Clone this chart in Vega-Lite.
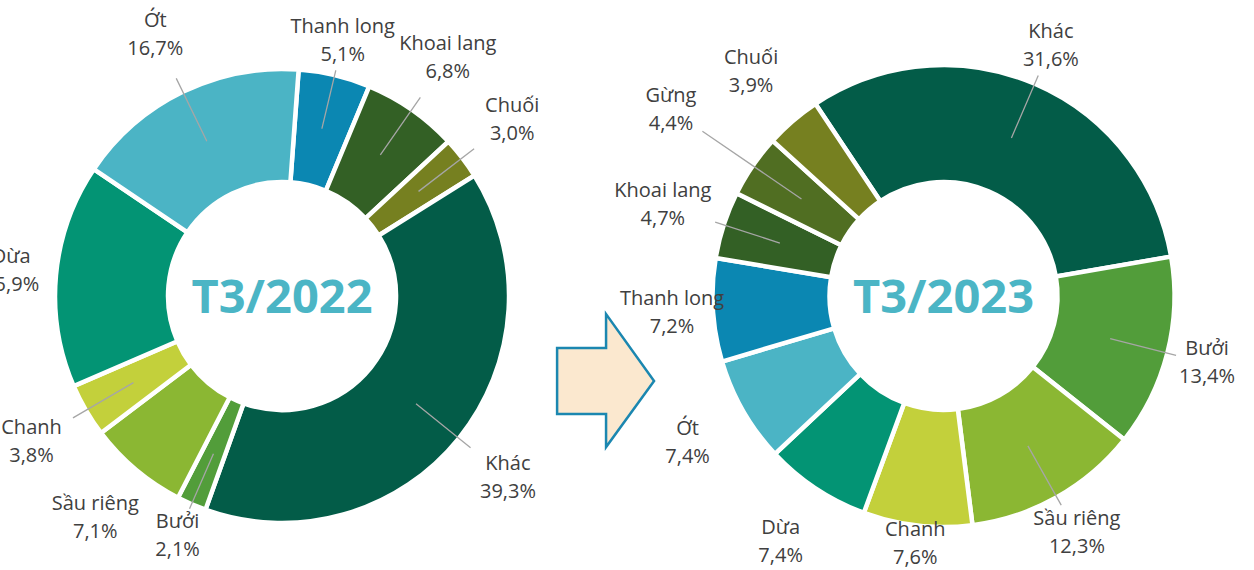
{
  "$schema": "https://vega.github.io/schema/vega-lite/v6.json",
  "width": 1254,
  "height": 548,
  "padding": {"top": 22, "bottom": 0, "left": 0, "right": 0},
  "autosize": {"type": "none"},
  "background": "white",
  "config": {
    "view": {"stroke": null},
    "locale": {"number": {"decimal": ",", "thousands": ".", "grouping": [3], "currency": ["", " ₫"]}},
    "text": {"font": "Open Sans", "fontSize": 20, "baseline": "middle", "align": "center"}
  },
  "data": {
    "values": [
      {"chart": "T3/2022", "i": 1, "name": "Thanh long", "share": 0.051},
      {"chart": "T3/2022", "i": 2, "name": "Khoai lang", "share": 0.068},
      {"chart": "T3/2022", "i": 3, "name": "Chuối", "share": 0.030},
      {"chart": "T3/2022", "i": 4, "name": "Khác", "share": 0.393},
      {"chart": "T3/2022", "i": 5, "name": "Bưởi", "share": 0.021},
      {"chart": "T3/2022", "i": 6, "name": "Sầu riêng", "share": 0.071},
      {"chart": "T3/2022", "i": 7, "name": "Chanh", "share": 0.038},
      {"chart": "T3/2022", "i": 8, "name": "Dừa", "share": 0.159},
      {"chart": "T3/2022", "i": 9, "name": "Ớt", "share": 0.167},
      {"chart": "T3/2023", "i": 1, "name": "Khác", "share": 0.316},
      {"chart": "T3/2023", "i": 2, "name": "Bưởi", "share": 0.134},
      {"chart": "T3/2023", "i": 3, "name": "Sầu riêng", "share": 0.123},
      {"chart": "T3/2023", "i": 4, "name": "Chanh", "share": 0.076},
      {"chart": "T3/2023", "i": 5, "name": "Dừa", "share": 0.074},
      {"chart": "T3/2023", "i": 6, "name": "Ớt", "share": 0.074},
      {"chart": "T3/2023", "i": 7, "name": "Thanh long", "share": 0.072},
      {"chart": "T3/2023", "i": 8, "name": "Khoai lang", "share": 0.047},
      {"chart": "T3/2023", "i": 9, "name": "Gừng", "share": 0.044},
      {"chart": "T3/2023", "i": 10, "name": "Chuối", "share": 0.039}
    ]
  },
  "encoding": {
    "x": {
      "field": "chart",
      "type": "nominal",
      "axis": null,
      "scale": {"type": "point", "domain": ["T3/2022", "arrow", "T3/2023"], "padding": 0.8957, "align": 0.476}
    }
  },
  "layer": [
    {
      "transform": [{"filter": "datum.chart === 'T3/2022'"}],
      "encoding": {
        "theta": {"field": "share", "type": "quantitative", "stack": true, "scale": {"range": [0.0733, 6.3565]}},
        "order": {"field": "i", "type": "quantitative"},
        "color": {
          "field": "name",
          "type": "nominal",
          "legend": null,
          "scale": {
            "domain": ["Khác", "Bưởi", "Sầu riêng", "Chanh", "Dừa", "Ớt", "Thanh long", "Khoai lang", "Gừng", "Chuối"],
            "range": ["#035C48", "#529D3A", "#8BB733", "#C3D03B", "#039474", "#4BB4C5", "#0B87B2", "#336025", "#506E22", "#768020"]
          }
        }
      },
      "layer": [
        {"mark": {"type": "arc", "radius": 227, "radius2": 114, "stroke": "white", "strokeWidth": 4.5}},
        {
          "mark": {"type": "arc", "radius": 242, "radius2": 172, "padAngle": 3, "filled": false, "strokeWidth": 1.3},
          "encoding": {
            "color": {"value": "#A6A6A6"},
            "opacity": {"condition": {"test": "indexof(['Ớt','Khoai lang','Chuối','Khác','Chanh'], datum.name) >= 0", "value": 1}, "value": 0}
          }
        },
        {
          "mark": {"type": "arc", "radius": 232, "radius2": 172, "padAngle": 3, "filled": false, "strokeWidth": 1.3},
          "encoding": {
            "color": {"value": "#A6A6A6"},
            "opacity": {"condition": {"test": "indexof(['Thanh long','Bưởi'], datum.name) >= 0", "value": 1}, "value": 0}
          }
        },
        {
          "mark": {"type": "text", "radius": 290, "dy": -14},
          "encoding": {
            "text": {"field": "name", "type": "nominal"}, "color": {"value": "#404040"},
            "opacity": {"condition": {"test": "indexof(['Thanh long','Bưởi','Dừa'], datum.name) < 0", "value": 1}, "value": 0}
          }
        },
        {
          "mark": {"type": "text", "radius": 290, "dy": 14},
          "encoding": {
            "text": {"field": "share", "type": "quantitative", "format": ".1%"}, "color": {"value": "#404040"},
            "opacity": {"condition": {"test": "indexof(['Thanh long','Bưởi','Dừa'], datum.name) < 0", "value": 1}, "value": 0}
          }
        },
        {
          "mark": {"type": "text", "radius": 272, "dy": -14},
          "encoding": {
            "text": {"field": "name", "type": "nominal"}, "color": {"value": "#404040"},
            "opacity": {"condition": {"test": "datum.name === 'Dừa'", "value": 1}, "value": 0}
          }
        },
        {
          "mark": {"type": "text", "radius": 272, "dy": 14},
          "encoding": {
            "text": {"field": "share", "type": "quantitative", "format": ".1%"}, "color": {"value": "#404040"},
            "opacity": {"condition": {"test": "datum.name === 'Dừa'", "value": 1}, "value": 0}
          }
        },
        {
          "mark": {"type": "text", "radius": 262, "dy": -14},
          "encoding": {
            "text": {"field": "name", "type": "nominal"}, "color": {"value": "#404040"},
            "opacity": {"condition": {"test": "indexof(['Thanh long','Bưởi'], datum.name) >= 0", "value": 1}, "value": 0}
          }
        },
        {
          "mark": {"type": "text", "radius": 262, "dy": 14},
          "encoding": {
            "text": {"field": "share", "type": "quantitative", "format": ".1%"}, "color": {"value": "#404040"},
            "opacity": {"condition": {"test": "indexof(['Thanh long','Bưởi'], datum.name) >= 0", "value": 1}, "value": 0}
          }
        }
      ]
    },
    {
      "transform": [{"filter": "datum.chart === 'T3/2023'"}],
      "encoding": {
        "theta": {"field": "share", "type": "quantitative", "stack": true, "scale": {"range": [-0.588, 5.6952]}},
        "order": {"field": "i", "type": "quantitative"},
        "color": {
          "field": "name",
          "type": "nominal",
          "legend": null,
          "scale": {
            "domain": ["Khác", "Bưởi", "Sầu riêng", "Chanh", "Dừa", "Ớt", "Thanh long", "Khoai lang", "Gừng", "Chuối"],
            "range": ["#035C48", "#529D3A", "#8BB733", "#C3D03B", "#039474", "#4BB4C5", "#0B87B2", "#336025", "#506E22", "#768020"]
          }
        }
      },
      "layer": [
        {"mark": {"type": "arc", "radius": 231, "radius2": 114, "stroke": "white", "strokeWidth": 4.5}},
        {
          "mark": {"type": "arc", "radius": 240, "radius2": 172, "padAngle": 3, "filled": false, "strokeWidth": 1.3},
          "encoding": {
            "color": {"value": "#A6A6A6"},
            "opacity": {"condition": {"test": "indexof(['Khác','Sầu riêng','Khoai lang','Bưởi'], datum.name) >= 0", "value": 1}, "value": 0}
          }
        },
        {
          "mark": {"type": "arc", "radius": 292, "radius2": 172, "padAngle": 3, "filled": false, "strokeWidth": 1.3},
          "encoding": {
            "color": {"value": "#A6A6A6"},
            "opacity": {"condition": {"test": "datum.name === 'Gừng'", "value": 1}, "value": 0}
          }
        },
        {
          "mark": {"type": "text", "radius": 250, "dy": -14},
          "encoding": {
            "text": {"field": "name", "type": "nominal"}, "color": {"value": "#404040"},
            "opacity": {"condition": {"test": "datum.name === 'Chanh'", "value": 1}, "value": 0}
          }
        },
        {
          "mark": {"type": "text", "radius": 250, "dy": 14},
          "encoding": {
            "text": {"field": "share", "type": "quantitative", "format": ".1%"}, "color": {"value": "#404040"},
            "opacity": {"condition": {"test": "datum.name === 'Chanh'", "value": 1}, "value": 0}
          }
        },
        {
          "mark": {"type": "text", "radius": 272, "dy": -14},
          "encoding": {
            "text": {"field": "name", "type": "nominal"}, "color": {"value": "#404040"},
            "opacity": {"condition": {"test": "indexof(['Khác','Sầu riêng','Thanh long','Bưởi'], datum.name) >= 0", "value": 1}, "value": 0}
          }
        },
        {
          "mark": {"type": "text", "radius": 272, "dy": 14},
          "encoding": {
            "text": {"field": "share", "type": "quantitative", "format": ".1%"}, "color": {"value": "#404040"},
            "opacity": {"condition": {"test": "indexof(['Khác','Sầu riêng','Thanh long','Bưởi'], datum.name) >= 0", "value": 1}, "value": 0}
          }
        },
        {
          "mark": {"type": "text", "radius": 295, "dy": -14},
          "encoding": {
            "text": {"field": "name", "type": "nominal"}, "color": {"value": "#404040"},
            "opacity": {"condition": {"test": "indexof(['Ớt','Chuối','Dừa','Khoai lang'], datum.name) >= 0", "value": 1}, "value": 0}
          }
        },
        {
          "mark": {"type": "text", "radius": 295, "dy": 14},
          "encoding": {
            "text": {"field": "share", "type": "quantitative", "format": ".1%"}, "color": {"value": "#404040"},
            "opacity": {"condition": {"test": "indexof(['Ớt','Chuối','Dừa','Khoai lang'], datum.name) >= 0", "value": 1}, "value": 0}
          }
        },
        {
          "mark": {"type": "text", "radius": 330, "dy": -14},
          "encoding": {
            "text": {"field": "name", "type": "nominal"}, "color": {"value": "#404040"},
            "opacity": {"condition": {"test": "datum.name === 'Gừng'", "value": 1}, "value": 0}
          }
        },
        {
          "mark": {"type": "text", "radius": 330, "dy": 14},
          "encoding": {
            "text": {"field": "share", "type": "quantitative", "format": ".1%"}, "color": {"value": "#404040"},
            "opacity": {"condition": {"test": "datum.name === 'Gừng'", "value": 1}, "value": 0}
          }
        }
      ]
    },
    {
      "data": {"values": [{"chart": "T3/2022"}, {"chart": "T3/2023"}]},
      "mark": {"type": "text", "font": "Open Sans", "fontSize": 47, "fontWeight": "bold", "color": "#4BB5C5", "baseline": "middle", "align": "center", "dy": 3},
      "encoding": {"text": {"field": "chart", "type": "nominal"}}
    },
    {
      "data": {"values": [{"chart": "arrow"}]},
      "mark": {
        "type": "point",
        "shape": "M-0.348,0.325L-0.042,0.325L-0.042,0.113L0.258,0.531L-0.042,0.944L-0.042,0.738L-0.348,0.738Z",
        "size": 102400,
        "filled": true,
        "fill": "#FBE8CF",
        "stroke": "#1B87B0",
        "strokeWidth": 2.5,
        "opacity": 1
      }
    }
  ],
  "resolve": {"scale": {"theta": "independent"}}
}
